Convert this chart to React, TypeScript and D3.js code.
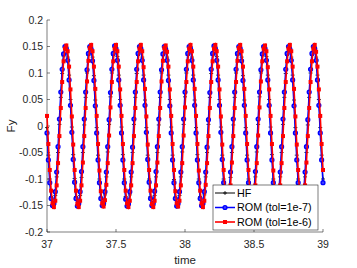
import React from "react";
import * as d3 from "d3";

// sampled every 0.01 s starting at t = 37
const tStart = 37;
const tStep = 0.01;

const hfValues = [
  -0.003, -0.055, -0.100, -0.133, -0.151, -0.150, -0.131, -0.096, -0.050, 0.003, 0.054, 0.099, 0.132, 0.149, 0.149, 0.130, 0.096, 0.050,
  -0.002, -0.054, -0.099, -0.133, -0.150, -0.150, -0.131, -0.097, -0.050, 0.002, 0.054, 0.100, 0.133, 0.150, 0.149, 0.130, 0.095, 0.049,
  -0.003, -0.055, -0.100, -0.134, -0.151, -0.150, -0.130, -0.096, -0.049, 0.003, 0.055, 0.100, 0.133, 0.150, 0.150, 0.131, 0.096, 0.050,
  -0.002, -0.054, -0.100, -0.133, -0.150, -0.149, -0.130, -0.096, -0.050, 0.003, 0.054, 0.099, 0.133, 0.150, 0.149, 0.130, 0.096, 0.049,
  -0.003, -0.055, -0.100, -0.133, -0.151, -0.150, -0.131, -0.096, -0.050, 0.002, 0.054, 0.100, 0.133, 0.150, 0.149, 0.130, 0.096, 0.050,
  -0.002, -0.055, -0.101, -0.134, -0.152, -0.150, -0.131, -0.096, -0.049, 0.003, 0.055, 0.100, 0.133, 0.150, 0.150, 0.130, 0.096, 0.049,
  -0.003, -0.054, -0.100, -0.133, -0.150, -0.149, -0.130, -0.096, -0.050, 0.003, 0.054, 0.099, 0.133, 0.150, 0.149, 0.131, 0.096, 0.050,
  -0.002, -0.055, -0.100, -0.133, -0.151, -0.150, -0.131, -0.097, -0.050, 0.002, 0.054, 0.100, 0.133, 0.150, 0.149, 0.130, 0.095, 0.049,
  -0.003, -0.055, -0.100, -0.134, -0.151, -0.150, -0.130, -0.096, -0.049, 0.003, 0.055, 0.100, 0.133, 0.151, 0.150, 0.131, 0.096, 0.050,
  -0.002, -0.054, -0.100, -0.133, -0.150, -0.149, -0.130, -0.096, -0.050, 0.003, 0.054, 0.099, 0.133, 0.150, 0.149, 0.130, 0.096, 0.049,
  -0.003, -0.055, -0.100, -0.133, -0.151, -0.150, -0.131, -0.096, -0.050, 0.002, 0.054, 0.100, 0.133, 0.150, 0.149, 0.130, 0.096, 0.050,
  -0.003, -0.055, -0.100,
];

const romTol7 = [
  -0.013, -0.064, -0.107, -0.137, -0.150, -0.146, -0.124, -0.087, -0.039, 0.013, 0.064, 0.107, 0.136, 0.150, 0.146, 0.124, 0.087, 0.039,
  -0.012, -0.063, -0.106, -0.137, -0.151, -0.146, -0.124, -0.086, -0.039, 0.013, 0.064, 0.106, 0.137, 0.150, 0.145, 0.123, 0.086, 0.038,
  -0.013, -0.064, -0.107, -0.137, -0.150, -0.146, -0.124, -0.087, -0.039, 0.012, 0.063, 0.107, 0.137, 0.151, 0.146, 0.124, 0.087, 0.039,
  -0.013, -0.064, -0.107, -0.138, -0.151, -0.147, -0.124, -0.087, -0.040, 0.013, 0.064, 0.107, 0.137, 0.150, 0.146, 0.124, 0.087, 0.039,
  -0.012, -0.063, -0.106, -0.137, -0.150, -0.146, -0.123, -0.086, -0.039, 0.013, 0.064, 0.106, 0.136, 0.150, 0.145, 0.124, 0.086, 0.038,
  -0.013, -0.064, -0.107, -0.137, -0.151, -0.146, -0.124, -0.087, -0.039, 0.013, 0.064, 0.107, 0.137, 0.150, 0.146, 0.124, 0.087, 0.039,
  -0.013, -0.064, -0.107, -0.137, -0.150, -0.146, -0.124, -0.087, -0.040, 0.012, 0.063, 0.107, 0.137, 0.151, 0.146, 0.124, 0.087, 0.039,
  -0.012, -0.063, -0.107, -0.138, -0.151, -0.147, -0.124, -0.087, -0.039, 0.013, 0.064, 0.107, 0.137, 0.150, 0.146, 0.123, 0.086, 0.039,
  -0.013, -0.064, -0.107, -0.137, -0.150, -0.146, -0.124, -0.086, -0.039, 0.013, 0.064, 0.106, 0.136, 0.150, 0.146, 0.124, 0.087, 0.039,
  -0.013, -0.064, -0.107, -0.137, -0.151, -0.146, -0.124, -0.087, -0.039, 0.013, 0.064, 0.107, 0.137, 0.150, 0.145, 0.124, 0.087, 0.038,
  -0.013, -0.064, -0.107, -0.137, -0.150, -0.146, -0.124, -0.087, -0.039, 0.012, 0.064, 0.107, 0.137, 0.150, 0.146, 0.124, 0.087, 0.039,
  -0.013, -0.064, -0.107,
];

const romTol6 = [
  0.019, -0.034, -0.083, -0.122, -0.146, -0.153, -0.141, -0.112, -0.070, -0.019, 0.034, 0.083, 0.122, 0.146, 0.152, 0.141, 0.112, 0.069,
  0.018, -0.035, -0.083, -0.122, -0.147, -0.153, -0.141, -0.112, -0.069, -0.019, 0.034, 0.084, 0.123, 0.147, 0.153, 0.141, 0.112, 0.070,
  0.019, -0.034, -0.084, -0.123, -0.146, -0.152, -0.140, -0.111, -0.070, -0.018, 0.035, 0.083, 0.122, 0.146, 0.153, 0.141, 0.112, 0.069,
  0.019, -0.034, -0.083, -0.122, -0.146, -0.153, -0.141, -0.112, -0.070, -0.019, 0.034, 0.083, 0.122, 0.146, 0.153, 0.141, 0.111, 0.070,
  0.018, -0.035, -0.083, -0.122, -0.147, -0.153, -0.141, -0.112, -0.069, -0.019, 0.034, 0.084, 0.123, 0.147, 0.152, 0.140, 0.112, 0.069,
  0.019, -0.034, -0.083, -0.123, -0.146, -0.152, -0.141, -0.112, -0.070, -0.018, 0.035, 0.083, 0.122, 0.146, 0.153, 0.141, 0.112, 0.070,
  0.019, -0.034, -0.084, -0.122, -0.146, -0.153, -0.141, -0.111, -0.070, -0.019, 0.034, 0.083, 0.122, 0.146, 0.153, 0.141, 0.112, 0.069,
  0.018, -0.035, -0.083, -0.122, -0.147, -0.153, -0.140, -0.112, -0.069, -0.019, 0.034, 0.083, 0.123, 0.147, 0.153, 0.141, 0.112, 0.070,
  0.019, -0.034, -0.083, -0.122, -0.146, -0.152, -0.141, -0.112, -0.070, -0.018, 0.035, 0.084, 0.122, 0.146, 0.152, 0.141, 0.111, 0.069,
  0.019, -0.034, -0.084, -0.123, -0.146, -0.153, -0.141, -0.112, -0.070, -0.019, 0.034, 0.083, 0.122, 0.146, 0.153, 0.141, 0.112, 0.070,
  0.018, -0.035, -0.083, -0.122, -0.147, -0.153, -0.141, -0.112, -0.069, -0.019, 0.034, 0.083, 0.122, 0.146, 0.153, 0.140, 0.112, 0.069,
  0.019, -0.034, -0.083,
];

const xTicks = [37, 37.5, 38, 38.5, 39];
const yTicks = [-0.2, -0.15, -0.1, -0.05, 0, 0.05, 0.1, 0.15, 0.2];
const legendLabels = ["HF", "ROM (tol=1e-7)", "ROM (tol=1e-6)"];

const W = 357;
const H = 268;
const left = 47;
const right = 323;
const top = 20;
const bottom = 232;
const axisColor = "#262626";
const font = "'Liberation Sans', Arial, Helvetica, sans-serif";

const plus = (cx: number, cy: number, s: number) =>
  `M${cx - s},${cy}H${cx + s}M${cx},${cy - s}V${cy + s}`;

const App: React.FC = () => {
  const x = d3.scaleLinear().domain([37, 39]).range([left, right]);
  const y = d3.scaleLinear().domain([-0.2, 0.2]).range([bottom, top]);
  const tAt = (i: number) => tStart + i * tStep;

  const line = d3
    .line<number>()
    .x((_, i) => x(tAt(i)))
    .y((d) => y(d));

  const legX = 213;
  const legY = 185;
  const legW = 105;
  const legH = 45;
  const rowY = [legY + 8, legY + 22.5, legY + 37];

  return (
    <svg
      width={W}
      height={H}
      style={{ position: "absolute", left: 0, top: 0, background: "#fff" }}
      fontFamily={font}
    >
      {/* axes */}
      <g stroke={axisColor} strokeWidth={0.6} fill="none">
        <line x1={left} x2={left} y1={top} y2={bottom} />
        <line x1={left} x2={right} y1={bottom} y2={bottom} />
        {xTicks.map((t) => (
          <line key={t} x1={x(t)} x2={x(t)} y1={bottom} y2={bottom - 3} />
        ))}
        {yTicks.map((t) => (
          <line key={t} x1={left} x2={left + 3} y1={y(t)} y2={y(t)} />
        ))}
      </g>
      <g fontSize={10.5} fill={axisColor}>
        {xTicks.map((t) => (
          <text key={t} x={x(t)} y={bottom + 16} textAnchor="middle">
            {String(t)}
          </text>
        ))}
        {yTicks.map((t) => (
          <text key={t} x={left - 4} y={y(t) + 3.7} textAnchor="end">
            {String(+t.toFixed(2))}
          </text>
        ))}
        <text x={(left + right) / 2} y={H - 4} textAnchor="middle" fontSize={11.5}>
          time
        </text>
        <text
          transform={`translate(15,${(top + bottom) / 2}) rotate(-90)`}
          textAnchor="middle"
          fontSize={11.5}
        >
          Fy
        </text>
      </g>

      {/* HF */}
      <path d={line(hfValues) || ""} fill="none" stroke="#000" strokeWidth={1} />
      <path
        d={hfValues.map((v, i) => plus(x(tAt(i)), y(v), 2)).join("")}
        stroke="#000"
        strokeWidth={0.8}
      />

      {/* ROM tol=1e-7 */}
      <path d={line(romTol7) || ""} fill="none" stroke="#0000ff" strokeWidth={1.5} />
      {romTol7.map((v, i) => (
        <circle
          key={i}
          cx={x(tAt(i))}
          cy={y(v)}
          r={1.9}
          fill="#4040ff"
          stroke="#0000ff"
          strokeWidth={1.4}
        />
      ))}

      {/* ROM tol=1e-6 */}
      <path d={line(romTol6) || ""} fill="none" stroke="#ff0000" strokeWidth={1.6} />
      {romTol6.map((v, i) => (
        <rect
          key={i}
          x={x(tAt(i)) - 2}
          y={y(v) - 2}
          width={4}
          height={4}
          fill="#ff0000"
        />
      ))}

      {/* legend */}
      <rect x={legX} y={legY} width={legW} height={legH} fill="#fff" stroke={axisColor} strokeWidth={0.6} />
      <g>
        <line x1={215} x2={235} y1={rowY[0]} y2={rowY[0]} stroke="#000" strokeWidth={1} />
        <path d={plus(225, rowY[0], 2)} stroke="#000" strokeWidth={0.8} />
        <line x1={215} x2={235} y1={rowY[1]} y2={rowY[1]} stroke="#0000ff" strokeWidth={1.5} />
        <circle cx={225} cy={rowY[1]} r={1.9} fill="#4040ff" stroke="#0000ff" strokeWidth={1.4} />
        <line x1={215} x2={235} y1={rowY[2]} y2={rowY[2]} stroke="#ff0000" strokeWidth={1.6} />
        <rect x={223} y={rowY[2] - 2} width={4} height={4} fill="#ff0000" />
      </g>
      <g fontSize={10.8} fill="#000">
        {legendLabels.map((s, i) => (
          <text key={s} x={237} y={rowY[i] + 3.8}>
            {s}
          </text>
        ))}
      </g>
    </svg>
  );
};

export default App;
